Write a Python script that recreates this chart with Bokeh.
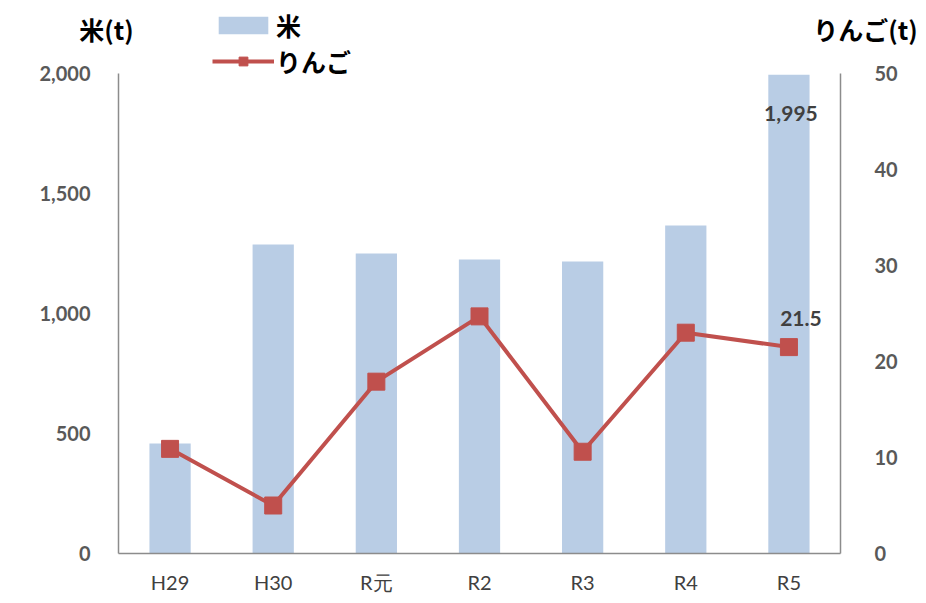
from bokeh.plotting import figure
from bokeh.models import (Range1d, LinearAxis, Label, Legend, LegendItem,
                          NumeralTickFormatter, FixedTicker)
from bokeh.embed import file_html
from bokeh.resources import INLINE

years = ["H29", "H30", "R元", "R2", "R3", "R4", "R5"]
rice = [458, 1287, 1250, 1225, 1217, 1367, 1995]
apple = [10.9, 5.0, 17.9, 24.7, 10.6, 23.0, 21.5]
rice_ticks = [0, 500, 1000, 1500, 2000]
apple_ticks = [0, 10, 20, 30, 40, 50]
rice_max = 2000
apple_max = 50

JP = "Noto Sans CJK JP"
TICKF = "Lato"

# layout (pixels): canvas 918x598, plot area from x=118..840, y=73..553
W, H = 918, 598
L, R, T, B = 118, 840, 73, 553
n = len(years)
xs = list(range(n))
cat = (R - L) / n                     # px per category
x_lo = -0.5 - L / cat
x_hi = -0.5 + (W - L) / cat
ry = (B - T) / rice_max               # px per rice unit
ay = (B - T) / apple_max              # px per apple unit

p = figure(width=W, height=H, x_range=Range1d(x_lo, x_hi),
           y_range=Range1d(-(H - B) / ry, B / ry), output_backend="svg", toolbar_location=None,
           min_border=0, x_axis_type=None, y_axis_type=None)
p.extra_y_ranges = {"apple": Range1d(-(H - B) / ay, B / ay)}
p.outline_line_color = None
p.grid.visible = False

bars = p.vbar(x=xs, top=rice, width=0.4, fill_color="#b9cde5", line_color=None)
line = p.line(x=xs, y=apple, y_range_name="apple", line_color="#c0504d", line_width=4)
marks = p.scatter(x=xs, y=apple, y_range_name="apple", marker="square", size=17,
                  fill_color="#c0504d", line_color="#c0504d")

p.text(x=[xs[-1]], y=[rice[-1]], text=[f"{rice[-1]:,}"], x_offset=2, y_offset=39,
       text_align="center", text_baseline="middle", text_color="#404040",
       text_font_size="21px", text_font={"value": TICKF}, text_font_style="bold")
p.text(x=[xs[-1]], y=[apple[-1]], text=[f"{apple[-1]}"], y_range_name="apple",
       x_offset=12, y_offset=-29, text_align="center", text_baseline="middle",
       text_color="#404040", text_font_size="21px", text_font={"value": TICKF},
       text_font_style="bold")

xax = LinearAxis(ticker=FixedTicker(ticks=xs),
                 major_label_overrides={i: y for i, y in zip(xs, years)},
                 bounds=(-0.5, n - 0.5), fixed_location=0)
lax = LinearAxis(ticker=FixedTicker(ticks=rice_ticks), formatter=NumeralTickFormatter(format="0,0"),
                 bounds=(0, rice_max), fixed_location=-0.5)
rax = LinearAxis(y_range_name="apple", ticker=FixedTicker(ticks=apple_ticks),
                 bounds=(0, apple_max), fixed_location=n - 0.5)
p.add_layout(xax, "below")
p.add_layout(lax, "left")
p.add_layout(rax, "right")
for a in [lax, rax, xax]:
    a.major_tick_line_color = None
    a.minor_tick_line_color = None
    a.axis_line_color = "#8c8c8c"
    a.axis_line_width = 1.5
    a.major_label_text_color = "#595959"
    a.major_label_text_font = TICKF
    a.major_label_text_font_size = "20px"
lax.major_label_text_font_style = "bold"
rax.major_label_text_font_style = "bold"
lax.major_label_standoff = 22
rax.major_label_standoff = 28
xax.major_label_standoff = 10
xax.major_label_text_color = "#404040"

# axis titles
def px_to_x(sx):
    return x_lo + sx / cat

p.add_layout(Label(x=px_to_x(106), y=(B - 28) / ry, text="米(t)",
                   text_align="center", text_baseline="middle",
                   text_font=JP, text_font_size="25px", text_font_style="bold", text_color="#000000"))
p.add_layout(Label(x=px_to_x(865), y=(B - 28) / ry, text="りんご(t)",
                   text_align="center", text_baseline="middle",
                   text_font=JP, text_font_size="25px", text_font_style="bold", text_color="#000000"))

legend = Legend(items=[LegendItem(label="米", renderers=[bars]),
                       LegendItem(label="りんご", renderers=[line, marks])],
                location=(212, H - 79), glyph_width=62, glyph_height=22, label_height=22,
                spacing=0, padding=0, margin=0, label_standoff=2,
                label_text_font=JP, label_text_font_size="25px", label_text_font_style="bold",
                label_text_color="#000000", background_fill_alpha=0, border_line_color=None)
p.add_layout(legend, "center")

open("out.html", "w").write(file_html(p, INLINE))
